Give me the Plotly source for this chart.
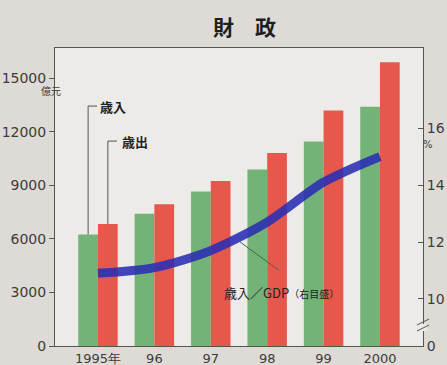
import plotly.graph_objects as go

# 財政: 歳入・歳出 (億元) and 歳入/GDP (%)
years = ["1995", "1996", "1997", "1998", "1999", "2000"]
year_labels = ["1995年", "96", "97", "98", "99", "2000"]
revenue = [6242, 7408, 8651, 9876, 11444, 13395]
expenditure = [6824, 7938, 9234, 10798, 13188, 15887]
revenue_gdp = [10.9, 11.1, 11.7, 12.7, 14.1, 15.0]

left_ticks = [0, 3000, 6000, 9000, 12000, 15000]
right_ticks = [10, 12, 14, 16]

W, H = 447, 365
ML, MR, MT, MB = 55, 24, 48, 19
PAPER_BG = "#dedad5"
PLOT_BG = "#ecebe8"
GREEN = "#74b377"
RED = "#e6584c"
BLUE = "rgba(42,44,180,0.88)"
INK = "#3c3c3c"
AXIS = "#555555"
JP = "Noto Sans CJK JP"
NUM = "DejaVu Sans"

# right axis: 10..16 % scale, broken below 10 so that the base reads 0
r_lo, r_hi = 8.35, 18.81
break_val = r_lo

fig = go.Figure()
fig.add_trace(go.Bar(x=years, y=revenue, marker=dict(color=GREEN, line_width=0),
                     name="歳入"))
fig.add_trace(go.Bar(x=years, y=expenditure, marker=dict(color=RED, line_width=0),
                     name="歳出"))
fig.add_trace(go.Scatter(x=years, y=revenue_gdp, yaxis="y2", mode="lines",
                         line=dict(color=BLUE, width=9, shape="spline", smoothing=0.8),
                         name="歳入／GDP"))

fig.update_layout(
    width=W, height=H,
    margin=dict(l=ML, r=MR, t=MT, b=MB, autoexpand=False),
    paper_bgcolor=PAPER_BG, plot_bgcolor=PLOT_BG,
    showlegend=False,
    barmode="group", bargap=0.3, bargroupgap=0,
    xaxis=dict(type="category", range=[-0.762, 5.763], automargin=False,
               tickvals=years, ticktext=year_labels, ticks="",
               showline=True, linecolor=AXIS, linewidth=1, mirror=True,
               showgrid=False, zeroline=False,
               tickfont=dict(family=NUM, size=13, color=INK)),
    yaxis=dict(range=[0, 16680], tickvals=left_ticks, automargin=False,
               ticktext=[str(v) for v in left_ticks],
               ticks="outside", ticklen=5, tickcolor=AXIS,
               showline=True, linecolor=AXIS, linewidth=1,
               showgrid=False, zeroline=False,
               tickfont=dict(family=NUM, size=14, color=INK)),
    yaxis2=dict(overlaying="y", side="right", range=[r_lo, r_hi], automargin=False,
                tickvals=[break_val] + right_ticks,
                ticktext=["0"] + [str(v) for v in right_ticks],
                ticks="inside", ticklen=5, tickcolor=AXIS,
                showline=True, linecolor=AXIS, linewidth=1,
                showgrid=False, zeroline=False,
                tickfont=dict(family=NUM, size=14, color=INK)),
    font=dict(family=JP, color=INK),
)

annotations = [
    dict(text="<b>財　政</b>", x=0.515, xref="paper", y=26, yref="paper",
         showarrow=False, font=dict(family=JP, size=21, color="#1e1e1e")),
    dict(text="億元", x=39, y=91, showarrow=False, font=dict(family=JP, size=10, color=INK)),
    dict(text="%", x=435, y=144, showarrow=False, font=dict(family=NUM, size=10, color=INK)),
    dict(text="<b>歳入</b>", x=98, y=106, xanchor="left", showarrow=False,
         font=dict(family=JP, size=13, color="#222")),
    dict(text="<b>歳出</b>", x=120, y=141, xanchor="left", showarrow=False,
         font=dict(family=JP, size=13, color="#222")),
    dict(text="歳入／GDP<span style='font-size:10px'>（右目盛）</span>", x=222, y=292,
         xanchor="left", showarrow=False, font=dict(family=JP, size=13, color="#222")),
]
# convert pixel placements of the text labels to paper coordinates
pw, ph = W - ML - MR, H - MT - MB
for a in annotations:
    if a.get("xref") != "paper":
        a["x"] = (a["x"] - ML) / pw
        a["xref"] = "paper"
    a["y"] = (H - MB - a["y"]) / ph
    a["yref"] = "paper"
    a.setdefault("yanchor", "middle")
fig.update_layout(annotations=annotations)

shapes = []
# leader brackets from the labels down to the 1995 bars
half = 0.175
rev_top_label = 13430
exp_top_label = 11470
shapes.append(dict(type="line", xref="x", yref="y", x0=-half, x1=-half,
                   y0=revenue[0], y1=rev_top_label, line=dict(color="#555", width=1)))
shapes.append(dict(type="line", xref="x", yref="y", x0=-half, x1=-half + 0.16,
                   y0=rev_top_label, y1=rev_top_label, line=dict(color="#555", width=1)))
shapes.append(dict(type="line", xref="x", yref="y", x0=half, x1=half,
                   y0=expenditure[0], y1=exp_top_label, line=dict(color="#555", width=1)))
shapes.append(dict(type="line", xref="x", yref="y", x0=half, x1=half + 0.16,
                   y0=exp_top_label, y1=exp_top_label, line=dict(color="#555", width=1)))
# leader from the ratio line to its label
shapes.append(dict(type="line", xref="x", yref="y", x0=2.52, x1=3.2,
                   y0=5820, y1=4250, line=dict(color="#3d6b4a", width=1)))


def px_x(v):
    return (v - ML) / pw


def px_y(v):
    return (H - MB - v) / ph


# break marks on the right axis
shapes.append(dict(type="rect", xref="paper", yref="paper",
                   x0=px_x(419), x1=px_x(427), y0=px_y(331), y1=px_y(324),
                   fillcolor=PLOT_BG, line=dict(width=0), layer="above"))
for dy in (0, 6):
    shapes.append(dict(type="line", xref="paper", yref="paper",
                       x0=px_x(417), x1=px_x(429), y0=px_y(328 + dy - 3), y1=px_y(322 + dy - 3),
                       line=dict(color=AXIS, width=1), layer="above"))
fig.update_layout(shapes=shapes)

fig.write_html("out.html")
